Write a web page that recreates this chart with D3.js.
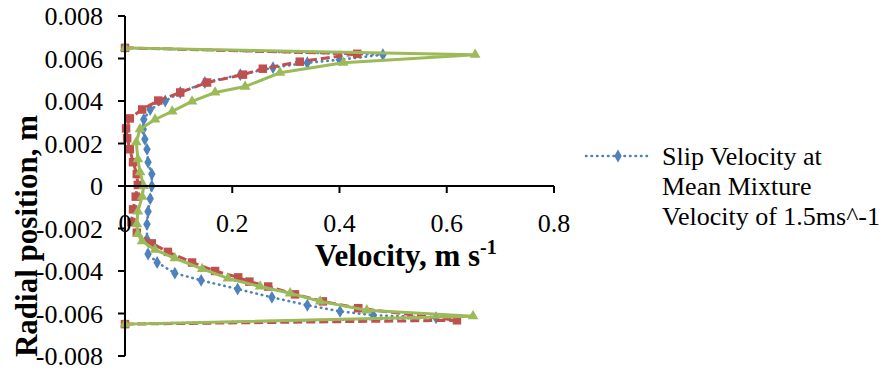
<!DOCTYPE html>
<html>
<head>
<meta charset="utf-8">
<script src="https://cdn.jsdelivr.net/npm/d3@7"></script>
<style>
  html, body { margin: 0; padding: 0; background: #fff; }
  svg { display: block; }
</style>
</head>
<body>
<svg id="chart" width="888" height="370" font-family="'Liberation Serif', 'Times New Roman', Tinos, 'DejaVu Serif', serif"></svg>
<script>
// ---- data ----
const xTicks = [0, 0.2, 0.4, 0.6, 0.8];
const xTickLabels = ["0", "0.2", "0.4", "0.6", "0.8"];
const yTicks = [0.008, 0.006, 0.004, 0.002, 0, -0.002, -0.004, -0.006, -0.008];
const yTickLabels = ["0.008", "0.006", "0.004", "0.002", "0", "-0.002", "-0.004", "-0.006", "-0.008"];

// Blue series: Slip Velocity at Mean Mixture Velocity of 1.5ms^-1
const blueR = [0.0065, 0.00618, 0.00594, 0.0058, 0.00557, 0.00524, 0.00487, 0.0044, 0.004, 0.0036, 0.00313, 0.00267, 0.0022, 0.00173, 0.00112, 0.00056, 0,
               -0.0006, -0.0012, -0.0018, -0.0025, -0.0032, -0.0036, -0.0041, -0.00444, -0.00485, -0.00524, -0.00561, -0.0059, -0.00608, -0.0062, -0.0065];
const blueV = [0, 0.481, 0.40, 0.34, 0.276, 0.215, 0.149, 0.103, 0.075, 0.047, 0.035, 0.034, 0.037, 0.041, 0.043, 0.050, 0.050,
               0.047, 0.043, 0.041, 0.041, 0.043, 0.060, 0.093, 0.142, 0.210, 0.274, 0.340, 0.401, 0.463, 0.58, 0];

// Red series
const redR = [0.0065, 0.00622, 0.00585, 0.00552, 0.00524, 0.00487, 0.0044, 0.00402, 0.0036, 0.00318, 0.00271, 0.00225, 0.00173, 0.00112, 0.00056, 0.00005,
              -0.0005, -0.0011, -0.0017, -0.0022, -0.0027, -0.0031, -0.0036, -0.0040, -0.0043, -0.0045, -0.00473, -0.0051, -0.00543, -0.00575, -0.00632, -0.0065];
const redV = [0, 0.433, 0.326, 0.257, 0.220, 0.153, 0.103, 0.062, 0.032, 0.009, 0.002, 0.004, 0.009, 0.015, 0.022, 0.024,
              0.020, 0.015, 0.012, 0.022, 0.050, 0.080, 0.125, 0.168, 0.211, 0.232, 0.267, 0.317, 0.369, 0.435, 0.619, 0];

// Green series
const greenR = [0.0065, 0.00618, 0.0058, 0.00533, 0.00468, 0.0044, 0.00398, 0.00351, 0.00313, 0.00267, 0.00206, 0.00126, 0.00065, 0,
                -0.0005, -0.0012, -0.0018, -0.00225, -0.0026, -0.0030, -0.0034, -0.0039, -0.00435, -0.00473, -0.00505, -0.00543, -0.00585, -0.00613, -0.0065];
const greenV = [0, 0.653, 0.407, 0.289, 0.224, 0.168, 0.125, 0.088, 0.056, 0.028, 0.021, 0.024, 0.028, 0.035,
                0.032, 0.024, 0.022, 0.024, 0.032, 0.056, 0.093, 0.144, 0.192, 0.252, 0.308, 0.364, 0.451, 0.649, 0];

const legendLines = ["Slip Velocity at", "Mean Mixture", "Velocity of 1.5ms^-1"];

// ---- chart ----
const svg = d3.select("#chart");
const x = d3.scaleLinear().domain([0, 0.8]).range([125, 554]);
const y = d3.scaleLinear().domain([-0.008, 0.008]).range([356, 16]);

const series = [
  { r: blueR, v: blueV, color: "#4F81BD", dash: "0.5,5", width: 2.6, cap: "round", symbol: d3.symbolDiamond, size: 48 },
  { r: redR, v: redV, color: "#C0504D", dash: "9,4", width: 3, cap: "butt", symbol: d3.symbolSquare, size: 72 },
  { r: greenR, v: greenV, color: "#9BBB59", dash: null, width: 3, cap: "round", symbol: d3.symbolTriangle, size: 50 }
];

const line = d3.line().x(d => x(d[0])).y(d => y(d[1]));

series.forEach(s => {
  const pts = s.v.map((v, i) => [v, s.r[i]]);
  svg.append("path")
    .attr("d", line(pts))
    .attr("fill", "none")
    .attr("stroke", s.color)
    .attr("stroke-width", s.width)
    .attr("stroke-linecap", s.cap)
    .attr("stroke-linejoin", "round")
    .attr("stroke-dasharray", s.dash);
  svg.append("g").selectAll("path")
    .data(pts)
    .join("path")
    .attr("d", d3.symbol().type(s.symbol).size(s.size))
    .attr("transform", d => `translate(${x(d[0])},${y(d[1])})`)
    .attr("fill", s.color);
});

// y axis
const yAxis = svg.append("g");
yAxis.append("line")
  .attr("x1", x(0)).attr("x2", x(0))
  .attr("y1", y(0.008)).attr("y2", y(-0.008))
  .attr("stroke", "#000").attr("stroke-width", 2);
yAxis.selectAll("line.tick").data(yTicks).join("line")
  .attr("class", "tick")
  .attr("x1", x(0) - 7).attr("x2", x(0))
  .attr("y1", d => y(d)).attr("y2", d => y(d))
  .attr("stroke", "#000").attr("stroke-width", 2);
yAxis.selectAll("text").data(yTicks).join("text")
  .attr("x", 103)
  .attr("y", d => y(d) + 9)
  .attr("text-anchor", "end")
  .attr("font-size", 26)
  .attr("fill", "#000")
  .text((d, i) => yTickLabels[i]);

// x axis (at r = 0)
const xAxis = svg.append("g");
xAxis.append("line")
  .attr("x1", x(0)).attr("x2", x(0.8))
  .attr("y1", y(0)).attr("y2", y(0))
  .attr("stroke", "#000").attr("stroke-width", 2);
xAxis.selectAll("line.tick").data(xTicks).join("line")
  .attr("class", "tick")
  .attr("x1", d => x(d)).attr("x2", d => x(d))
  .attr("y1", y(0)).attr("y2", y(0) + 7)
  .attr("stroke", "#000").attr("stroke-width", 2);
xAxis.selectAll("text").data(xTicks).join("text")
  .attr("x", d => x(d))
  .attr("y", 232)
  .attr("text-anchor", "middle")
  .attr("font-size", 26)
  .attr("fill", "#000")
  .text((d, i) => xTickLabels[i]);

// axis titles
const xt = svg.append("text")
  .attr("x", 315).attr("y", 266)
  .attr("font-size", 31).attr("font-weight", "bold").attr("fill", "#000");
xt.append("tspan").text("Velocity, m s");
xt.append("tspan").attr("font-size", 20).attr("dy", -12).text("-1");

svg.append("text")
  .attr("transform", "translate(37,236) rotate(-90)")
  .attr("text-anchor", "middle")
  .attr("font-size", 31).attr("font-weight", "bold").attr("fill", "#000")
  .text("Radial position, m");

// legend
const lg = svg.append("g");
lg.append("line")
  .attr("x1", 586).attr("x2", 650).attr("y1", 156).attr("y2", 156)
  .attr("stroke", "#4F81BD").attr("stroke-width", 2.6)
  .attr("stroke-linecap", "round").attr("stroke-dasharray", "0.5,5");
lg.append("path")
  .attr("d", d3.symbol().type(d3.symbolDiamond).size(48))
  .attr("transform", "translate(618,156)")
  .attr("fill", "#4F81BD");
lg.selectAll("text").data(legendLines).join("text")
  .attr("x", 662)
  .attr("y", (d, i) => 165 + i * 30)
  .attr("font-size", 26)
  .attr("fill", "#000")
  .text(d => d);
</script>
</body>
</html>
